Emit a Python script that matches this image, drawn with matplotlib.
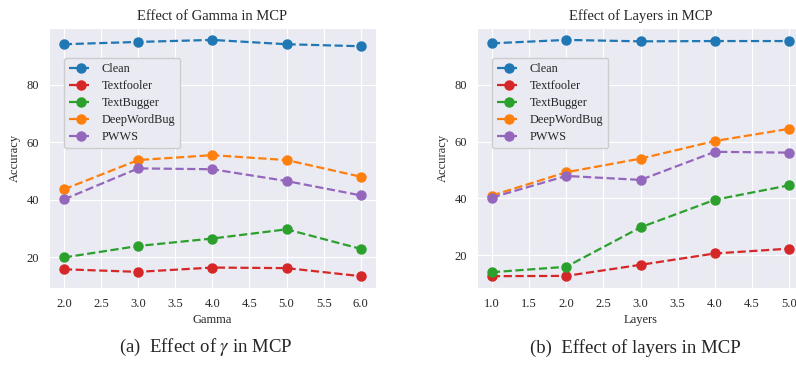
import matplotlib
matplotlib.use("Agg")
import matplotlib.pyplot as plt
import seaborn as sns

sns.set_style("darkgrid")
plt.rcParams["font.family"] = ["Liberation Serif", "DejaVu Serif"]
plt.rcParams["mathtext.fontset"] = "stix"

SERIES = ["Clean", "Textfooler", "TextBugger", "DeepWordBug", "PWWS"]
COLORS = ["#1f77b4", "#d62728", "#2ca02c", "#ff7f0e", "#9467bd"]

# gamma sweep
gamma = [2.0, 3.0, 4.0, 5.0, 6.0]
gamma_acc = {
    "Clean":       [94.1, 94.9, 95.6, 94.1, 93.4],
    "Textfooler":  [15.8, 14.9, 16.4, 16.2, 13.4],
    "TextBugger":  [19.9, 23.9, 26.5, 29.7, 22.9],
    "DeepWordBug": [43.6, 53.8, 55.5, 53.8, 48.0],
    "PWWS":        [40.1, 50.9, 50.6, 46.5, 41.5],
}

# layer sweep
layers = [1.0, 2.0, 3.0, 4.0, 5.0]
layer_acc = {
    "Clean":       [94.6, 95.8, 95.3, 95.4, 95.4],
    "Textfooler":  [12.6, 12.7, 16.6, 20.6, 22.3],
    "TextBugger":  [14.0, 15.9, 29.8, 39.5, 44.6],
    "DeepWordBug": [41.0, 49.2, 54.0, 60.2, 64.5],
    "PWWS":        [40.3, 47.9, 46.5, 56.4, 56.1],
}

fig = plt.figure(figsize=(7.96, 3.65), dpi=100)
ax1 = fig.add_axes([0.0616, 0.211, 0.4104, 0.712])
ax2 = fig.add_axes([0.5993, 0.211, 0.4108, 0.712])


def draw(ax, x, acc, title, xlabel):
    for name, col in zip(SERIES, COLORS):
        ax.plot(x, acc[name], "--o", color=col, lw=1.6, markersize=6.5, label=name)
    ax.set_title(title, fontsize=10.5, pad=6)
    ax.set_xlabel(xlabel, fontsize=9, labelpad=3)
    ax.set_ylabel("Accuracy", fontsize=9, labelpad=4)
    ax.tick_params(labelsize=9, pad=3.5)
    ax.set_yticks([20, 40, 60, 80])
    ticks = [x[0] + 0.5 * i for i in range(2 * (len(x) - 1) + 1)]
    ax.set_xticks(ticks)
    ax.set_xticklabels([f"{t:.1f}" for t in ticks])
    ax.legend(loc="upper left", bbox_to_anchor=(0.046, 0.885), borderaxespad=0,
              fontsize=8.8, handlelength=1.9, handletextpad=0.8, labelspacing=0.42,
              borderpad=0.4, facecolor="#EAEAF2", edgecolor="#cccccc", framealpha=1.0)


draw(ax1, gamma, gamma_acc, "Effect of Gamma in MCP", "Gamma")
draw(ax2, layers, layer_acc, "Effect of Layers in MCP", "Layers")

fig.text(0.259, 0.047, r"(a)  Effect of $\gamma$ in MCP", ha="center", va="center", fontsize=13.5)
fig.text(0.798, 0.047, "(b)  Effect of layers in MCP", ha="center", va="center", fontsize=13.5)

fig.savefig("out.png", dpi=100)
